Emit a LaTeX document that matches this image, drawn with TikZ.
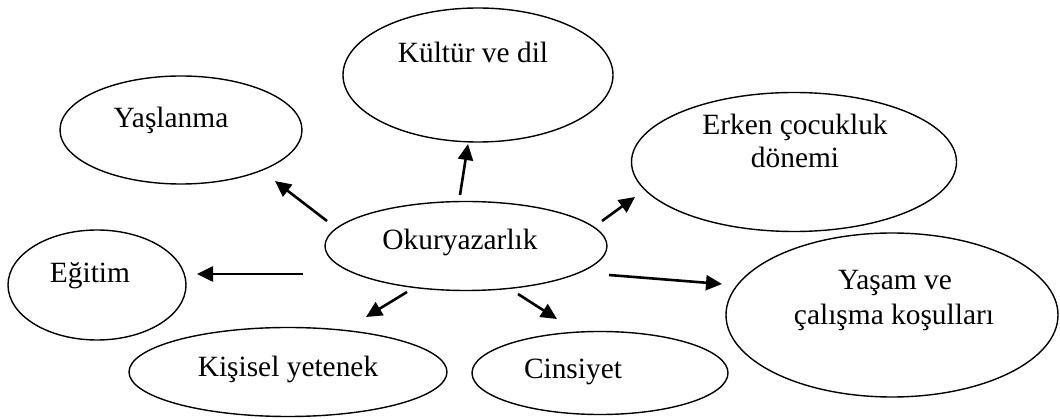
\documentclass[tikz,border=0pt]{standalone}
\usepackage{fontspec}
\setmainfont{Liberation Serif}
\usetikzlibrary{shapes.geometric,arrows.meta}
\tikzset{
  ell/.style={draw, ellipse, line width=1.4pt, inner sep=0pt},
  txt/.style={anchor=base, inner sep=0pt, font=\fontsize{29.4}{34}\selectfont},
  arr/.style={line width=2.6pt, -{Triangle[length=16pt,width=15pt]}}
}
\begin{document}
\begin{tikzpicture}[x=1pt,y=-1pt]
\useasboundingbox (0,0) rectangle (1060,419);
% ellipses
\node[ell, minimum width=270pt, minimum height=134pt] (kultur) at (478,75) {};
\node[ell, minimum width=242pt, minimum height=108pt] (yasl) at (181,130) {};
\node[ell, minimum width=282pt, minimum height=89pt] (okur) at (466,246) {};
\node[ell, minimum width=178pt, minimum height=110pt] (egit) at (97,285) {};
\node[ell, minimum width=318pt, minimum height=89pt] (kisi) at (288,372) {};
\node[ell, minimum width=256pt, minimum height=83pt] (cins) at (600,373) {};
\node[ell, minimum width=325pt, minimum height=139pt] (erken) at (794,162) {};
\node[ell, minimum width=332pt, minimum height=164pt] (yasam) at (892,315) {};
% texts
\node[txt] (tkultur) at (473,63) {Kültür ve dil};
\node[txt] (tyasl) at (171,128) {Yaşlanma};
\node[txt] (tokur) at (460,250) {Okuryazarlık};
\node[txt] (tegit) at (90,283) {Eğitim};
\node[txt] (tkisi) at (288,377) {Kişisel yetenek};
\node[txt] (tcins) at (573,379) {Cinsiyet};
\node[txt] (terken1) at (795,135) {Erken çocukluk};
\node[txt] (terken2) at (795,168) {dönemi};
\node[txt] (tyasam1) at (895,290) {Yaşam ve};
\node[txt] (tyasam2) at (894,325) {çalışma koşulları};
% arrow ends
\coordinate (a1s) at (327,221); \coordinate (a1e) at (275,181);
\coordinate (a2s) at (460,195); \coordinate (a2e) at (468,144);
\coordinate (a3s) at (602,221); \coordinate (a3e) at (635,197);
\coordinate (a4s) at (303,274); \coordinate (a4e) at (197,274);
\coordinate (a5s) at (407,292); \coordinate (a5e) at (366,317);
\coordinate (a6s) at (518,294); \coordinate (a6e) at (557,319);
\coordinate (a7s) at (609,275); \coordinate (a7e) at (722,284);
\draw[arr] (a1s) -- (a1e);
\draw[arr] (a2s) -- (a2e);
\draw[arr] (a3s) -- (a3e);
\draw[arr] (a4s) -- (a4e);
\draw[arr] (a5s) -- (a5e);
\draw[arr] (a6s) -- (a6e);
\draw[arr] (a7s) -- (a7e);
\end{tikzpicture}
\end{document}
